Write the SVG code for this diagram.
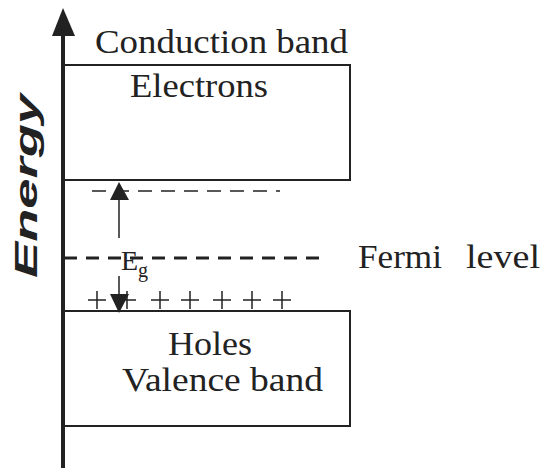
<svg xmlns="http://www.w3.org/2000/svg" width="546" height="469" viewBox="0 0 546 469">
<style>
.t{font-family:"Liberation Serif","Times New Roman",serif;fill:#222;font-size:34px}
.box{fill:none;stroke:#222;stroke-width:2}
.ln{stroke:#222;fill:none}
</style>
<rect width="546" height="469" fill="#fff"/>
<g id="axis">
<line class="ln" x1="63" y1="468" x2="63" y2="30" stroke-width="4"/>
<polygon points="63,8 52,36 75,36" fill="#222"/>
<text transform="translate(37,186) rotate(-90) scale(1.75,1)" text-anchor="middle" font-family="Liberation Sans,Arial,sans-serif" font-weight="bold" font-style="italic" font-size="31" fill="#222">Energy</text>
</g>
<g id="conduction">
<rect class="box" x="63" y="65" width="287" height="115"/>
<text class="t" x="95" y="53" textLength="253" lengthAdjust="spacingAndGlyphs">Conduction band</text>
<text class="t" x="130" y="97" textLength="138" lengthAdjust="spacingAndGlyphs">Electrons</text>
</g>
<g id="valence">
<rect class="box" x="63" y="311" width="287" height="115"/>
<text class="t" x="168" y="355" textLength="84" lengthAdjust="spacingAndGlyphs">Holes</text>
<text class="t" x="122" y="391" textLength="201" lengthAdjust="spacingAndGlyphs">Valence band</text>
</g>
<g id="levels">
<line class="ln" x1="92" y1="191" x2="280" y2="191" stroke-width="1.5" stroke-dasharray="14,9"/>
<line class="ln" x1="64" y1="258" x2="326" y2="258" stroke-width="3" stroke-dasharray="13,9"/>
<text class="t" x="358" y="268" textLength="84" lengthAdjust="spacingAndGlyphs">Fermi</text>
<text class="t" x="466" y="268" textLength="74" lengthAdjust="spacingAndGlyphs">level</text>
<g class="ln" stroke-width="1.5">
<path d="M88,300h18M97,291v18M118,300h18M127,291v18M151,300h18M160,291v18M181,300h18M190,291v18M213,300h18M222,291v18M243,300h18M252,291v18M273,300h18M282,291v18"/>
</g>
</g>
<g id="connectors">
<line class="ln" x1="119" y1="198" x2="119" y2="238" stroke-width="1.5"/>
<polygon points="119,182 110,200 129,200" fill="#222"/>
<line class="ln" x1="119" y1="276" x2="119" y2="296" stroke-width="1.5"/>
<polygon points="119,313 110,294 129,294" fill="#222"/>
<text class="t" x="121" y="270" style="font-size:28px">E<tspan style="font-size:20px" dy="7">g</tspan></text>
</g>
</svg>
